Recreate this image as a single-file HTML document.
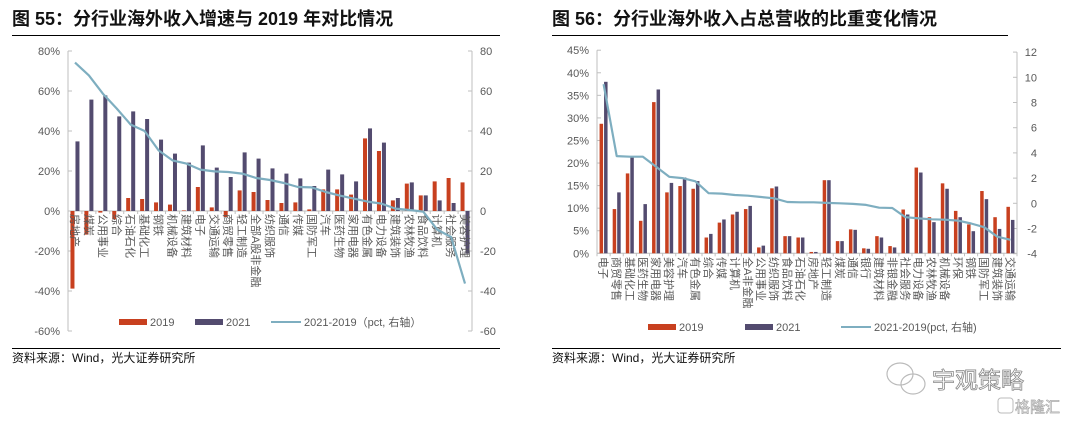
<!DOCTYPE html>
<html><head><meta charset="utf-8">
<style>
body{margin:0;background:#fff;width:1067px;height:423px;overflow:hidden;font-family:"Liberation Sans","Noto Sans CJK SC",sans-serif;}
svg text{font-family:"Liberation Sans","Noto Sans CJK SC",sans-serif;}
</style></head>
<body>
<svg id="svg" width="1067" height="423" viewBox="0 0 1067 423">
<g id="static">
<text x="12" y="25" font-size="18" font-weight="bold" fill="#111">图 55：分行业海外收入增速与 2019 年对比情况</text>
<line x1="12" y1="35.5" x2="500" y2="35.5" stroke="#000" stroke-width="1"/>
<text x="552" y="25" font-size="18" font-weight="bold" fill="#111">图 56：分行业海外收入占总营收的比重变化情况</text>
<line x1="552" y1="35.5" x2="1008" y2="35.5" stroke="#000" stroke-width="1"/>
<line x1="12" y1="348.5" x2="500" y2="348.5" stroke="#000" stroke-width="1"/>
<text x="12" y="362" font-size="12" fill="#111">资料来源：Wind，光大证券研究所</text>
<line x1="552" y1="348.5" x2="1061" y2="348.5" stroke="#000" stroke-width="1"/>
<text x="552" y="362" font-size="12" fill="#111">资料来源：Wind，光大证券研究所</text>
<g fill="none" stroke="#bbb" stroke-width="1.2">
<ellipse cx="900" cy="374" rx="13" ry="11"/><ellipse cx="913" cy="384" rx="12" ry="10"/>
</g>
<text x="932" y="388" font-size="23" fill="#fff" stroke="#888" stroke-width="0.8">宇观策略</text>
<rect x="998" y="398" width="15" height="15" rx="3" fill="none" stroke="#bbb"/>
<text x="1015" y="412" font-size="15" fill="#fff" stroke="#aaa" stroke-width="0.7">格隆汇</text>
</g>
<g id="left"></g>
<g id="right"></g>
</svg>
<script>
// ---- Left chart data ----
const leftCats=["房地产","煤炭","公用事业","综合","石油石化","基础化工","钢铁","机械设备","建筑材料","电子","交通运输","商贸零售","轻工制造","全部A股非金融","纺织服饰","通信","传媒","国防军工","汽车","医药生物","家用电器","有色金属","电力设备","建筑装饰","农林牧渔","食品饮料","计算机","社会服务","美容护理"];
const left2019=[-38.8,-11.8,-0.8,-4.2,6.5,6,4.3,3.2,0.3,12,1.8,-3,10.3,9.5,5.5,4,4.3,0.8,10.8,10.8,8.2,36.3,30,5.3,13.7,7.8,14.8,16.5,14.3];
const left2021=[34.8,55.7,57.8,47.3,49.8,46,35.7,28.7,24.2,32.8,21.7,17,29.3,26.2,21.3,18.7,16.3,12.5,20.7,18.3,14.8,41.3,34.2,6.5,14.3,7.8,5.3,4,-21.3];
const leftDiff=[74.2,67.8,58.7,51.2,43.2,40,30.3,25.3,23.7,20.7,19.8,19.5,18.7,16.5,15.5,14,12,11.8,9.5,7.7,6.2,4.7,3.7,1.2,0.5,-0.3,-9.3,-13,-36.3];
const leftTicks=[80,60,40,20,0,-20,-40,-60];
const leftRightTicks=[80,60,40,20,0,-20,-40,-60];
// ---- Right chart data ----
const rightCats=["电子","商贸零售","基础化工","医药生物","家用电器","美容护理","汽车","有色金属","综合","传媒","计算机","全A非金融","公用事业","纺织服饰","食品饮料","石油石化","房地产","轻工制造","煤炭","通信","银行","建筑材料","非银金融","社会服务","电力设备","农林牧渔","机械设备","环保","钢铁","国防军工","建筑装饰","交通运输"];
const right2019=[28.7,9.8,17.7,7.2,33.5,13.5,14.9,14.3,3.5,6.8,8.6,9.8,1.3,14.4,3.8,3.5,0.3,16.2,2.7,5.3,1.1,3.8,1.6,9.7,19,8,15.5,9.4,6.4,13.8,8,10.3];
const right2021=[38,13.5,21.3,10.9,36.3,15.6,16.8,16,4.3,7.5,9.2,10.5,1.7,14.8,3.8,3.5,0.3,16.2,2.7,5.2,1,3.5,1.3,8.6,17.9,6.9,14.3,8,4.9,12,5.4,7.4];
const rightDiff=[9.45,3.75,3.7,3.7,2.9,2.1,2.0,1.75,0.8,0.77,0.66,0.6,0.5,0.4,0.1,0.08,0.08,0.03,0,-0.05,-0.13,-0.35,-0.37,-1.1,-1.2,-1.27,-1.3,-1.37,-1.6,-1.9,-2.65,-2.9];
const rightTicks=[45,40,35,30,25,20,15,10,5,0];
const rightRightTicks=[12,10,8,6,4,2,0,-2,-4];

const NS="http://www.w3.org/2000/svg";
const RED="#c8401f",BLUE="#534b6f",LINE="#7eaec0",AX="#bfbfbf",TXT="#595959";
function mk(parent,tag,attrs){const e=document.createElementNS(NS,tag);for(const k in attrs)e.setAttribute(k,attrs[k]);parent.appendChild(e);return e;}

function drawChart(g,cfg){
  const {x0,x1,yL,yR,cats,a,b,d,lt,rt,labelY,lFmt,legend}=cfg;
  const n=cats.length,step=(x1-x0)/n;
  const cx=i=>x0+step*(i+0.5);
  const bw=cfg.bw;
  let e=mk(g,'line',{x1:x0,y1:yL(lt[0]),x2:x0,y2:yL(lt[lt.length-1]),stroke:AX});
  
  
  e=mk(g,'line',{x1:x1,y1:yR(rt[0]),x2:x1,y2:yR(rt[rt.length-1]),stroke:AX});
  
  
  lt.forEach(v=>{
    const y=yL(v);
    let t=mk(g,'line',{x1:x0,y1:y,x2:x0+4,y2:y,stroke:AX});
    
    
    t=mk(g,'text',{x:x0-8,y:y+4,'font-size':11,fill:TXT,'text-anchor':'end'});
    t.textContent=lFmt(v);
    
    
  });
  rt.forEach(v=>{
    const y=yR(v);
    let t=mk(g,'line',{x1:x1-4,y1:y,x2:x1,y2:y,stroke:AX});
    
    
    t=mk(g,'text',{x:x1+cfg.rOff,y:y+4,'font-size':11,fill:TXT,'text-anchor':cfg.rAnchor});
    t.textContent=String(v);
    
    
  });
  e=mk(g,'line',{x1:x0,y1:yL(0),x2:x1,y2:yL(0),stroke:AX});
  
  
  for(let i=0;i<=n;i++){
    const t=mk(g,'line',{x1:x0+step*i,y1:yL(0),x2:x0+step*i,y2:yL(0)+3,stroke:AX});
    
    
  }
  cats.forEach((c,i)=>{
    const y0=yL(0);
    let ya=yL(a[i]);
    let r=mk(g,'rect',{x:cx(i)-bw-0.5,y:Math.min(ya,y0),width:bw,height:Math.max(0.5,Math.abs(ya-y0)),fill:RED});
    
    
    let yb=yL(b[i]);
    r=mk(g,'rect',{x:cx(i)+0.5,y:Math.min(yb,y0),width:bw,height:Math.max(0.5,Math.abs(yb-y0)),fill:BLUE});
    
    
    const t=mk(g,'text',{x:0,y:0,'font-size':11,fill:TXT,transform:`translate(${cx(i)-4},${labelY}) rotate(90)`});
    t.textContent=c;
    
    
  });
  const pts=d.map((v,i)=>cx(i).toFixed(1)+','+yR(v).toFixed(1)).join(' ');
  e=mk(g,'polyline',{points:pts,fill:'none',stroke:LINE,'stroke-width':2.2,'stroke-linejoin':'round'});
  
  
  const L=legend;
  e=mk(g,'rect',{x:L[0],y:L[3]-3,width:28,height:6,fill:RED});
  
  
  e=mk(g,'text',{x:L[0]+31,y:L[3]+4,'font-size':11,fill:TXT});e.textContent='2019';
  
  
  e=mk(g,'rect',{x:L[1],y:L[3]-3,width:28,height:6,fill:BLUE});
  
  
  e=mk(g,'text',{x:L[1]+31,y:L[3]+4,'font-size':11,fill:TXT});e.textContent='2021';
  
  
  e=mk(g,'line',{x1:L[2],y1:L[3],x2:L[2]+30,y2:L[3],stroke:LINE,'stroke-width':2});
  
  
  e=mk(g,'text',{x:L[2]+33,y:L[3]+4,'font-size':11,fill:TXT});e.textContent=cfg.diffLabel;
  
  
}
const gl=document.getElementById('left');


drawChart(gl,{x0:68,x1:472,yL:v=>211-v*2,yR:v=>211-v*2,cats:leftCats,a:left2019,b:left2021,d:leftDiff,lt:leftTicks,rt:leftRightTicks,labelY:214,bw:4,lFmt:v=>v+'%',rOff:8,rAnchor:'start',legend:[119,195,271,322],diffLabel:'2021-2019（pct, 右轴）'});
const gr=document.getElementById('right');


drawChart(gr,{x0:597,x1:1017,yL:v=>253.3-v*4.513,yR:v=>203.3-v*12.6,cats:rightCats,a:right2019,b:right2021,d:rightDiff,lt:rightTicks,rt:rightRightTicks,labelY:257,bw:3.5,lFmt:v=>v+'%',rOff:20,rAnchor:'end',legend:[648,745,841,327],diffLabel:'2021-2019(pct, 右轴)'});
</script>
</body></html>
